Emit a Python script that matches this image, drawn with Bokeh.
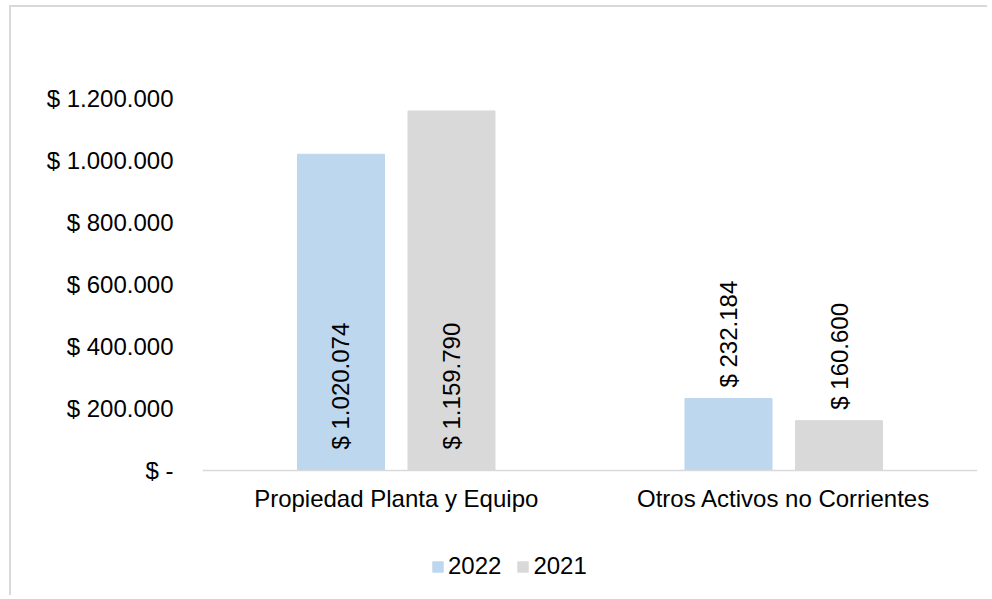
import math
from bokeh.plotting import figure
from bokeh.models import ColumnDataSource, FactorRange, Range1d, FixedTicker, Legend, LegendItem
from bokeh.transform import dodge
from bokeh.core.properties import value
from bokeh.embed import file_html
from bokeh.resources import INLINE

# ---- data ----
categories = ["Propiedad Planta y Equipo", "Otros Activos no Corrientes"]
values_2022 = [1020074, 232184]
values_2021 = [1159790, 160600]
series_names = ["2022", "2021"]
tick_values = [0, 200000, 400000, 600000, 800000, 1000000, 1200000]
tick_labels = ["$ -", "$ 200.000", "$ 400.000", "$ 600.000", "$ 800.000", "$ 1.000.000", "$ 1.200.000"]

COL_2022 = "#BDD7EE"
COL_2021 = "#D9D9D9"
FONT = "Liberation Sans"
FS = "24px"


def money(v):
    return "$ " + f"{v:,}".replace(",", ".")


# layout geometry (pixels inside the canvas)
W, H = 978, 590
TOP, LEFT, RIGHT, BOTTOM = 29, 191, 12, 7
Y_MAX = 1400000
zero_from_top = 463          # pixel row of the value 0 measured from canvas top
frame_h = H - TOP - BOTTOM
per_px = Y_MAX / (zero_from_top - TOP)
y_start = -(frame_h - (zero_from_top - TOP)) * per_px

src = ColumnDataSource(dict(cat=categories, v2022=values_2022, v2021=values_2021))

p = figure(
    x_range=FactorRange(factors=categories, range_padding=0),
    y_range=Range1d(y_start, Y_MAX),
    width=W, height=H,
    output_backend="svg", toolbar_location=None,
    min_border_left=LEFT, min_border_right=RIGHT, min_border_top=TOP, min_border_bottom=BOTTOM,
)
p.styles = {"border-left": "2px solid #d9d9d9", "border-top": "2px solid #d9d9d9",
            "margin-left": "9px", "margin-top": "5px"}
p.outline_line_color = None
p.xgrid.visible = False
p.ygrid.visible = False
p.background_fill_color = "white"
p.border_fill_color = "white"

off = 0.1426
bw = 0.2245
r22 = p.vbar(x=dodge("cat", -off, range=p.x_range), top="v2022", bottom=0, width=bw, source=src,
             fill_color=COL_2022, line_color=COL_2022)
r21 = p.vbar(x=dodge("cat", off, range=p.x_range), top="v2021", bottom=0, width=bw, source=src,
             fill_color=COL_2021, line_color=COL_2021)

# data labels: inside base for tall bars, outside end for short ones
for vals, dx in ((values_2022, -off), (values_2021, off)):
    ys = [0 if v > 500000 else v for v in vals]
    yoffs = [-21 if v > 500000 else -11 for v in vals]
    lsrc = ColumnDataSource(dict(cat=categories, y=ys, t=[money(v) for v in vals], yo=yoffs))
    p.text(x=dodge("cat", dx, range=p.x_range), y="y", text="t", y_offset="yo", source=lsrc,
           angle=math.pi / 2, text_align="left", text_baseline="middle",
           text_font=value(FONT), text_font_size=FS, text_color="#000000")

# axes
p.yaxis.ticker = FixedTicker(ticks=tick_values)
p.yaxis.major_label_overrides = {t: l for t, l in zip(tick_values, tick_labels)}
p.yaxis.axis_line_color = None
p.yaxis.major_tick_line_color = None
p.yaxis.minor_tick_line_color = None
p.yaxis.major_tick_out = 0
p.yaxis.major_tick_in = 0
p.yaxis.major_label_standoff = 29
p.yaxis.major_label_text_font = FONT
p.yaxis.major_label_text_font_size = FS
p.yaxis.major_label_text_color = "#000000"

p.xaxis.fixed_location = 0
p.xaxis.axis_line_color = "#D9D9D9"
p.xaxis.axis_line_width = 1.5
p.xaxis.major_tick_line_color = None
p.xaxis.minor_tick_line_color = None
p.xaxis.major_tick_out = 0
p.xaxis.major_tick_in = 0
p.xaxis.major_label_standoff = 14
p.xaxis.major_label_text_font = FONT
p.xaxis.major_label_text_font_size = FS
p.xaxis.major_label_text_color = "#000000"

legend = Legend(
    items=[LegendItem(label=series_names[0], renderers=[r22]),
           LegendItem(label=series_names[1], renderers=[r21])],
    orientation="horizontal", location=(229, 10),
    padding=0, margin=0, spacing=15, label_standoff=4,
    glyph_width=13, glyph_height=13, label_height=13,
    border_line_color=None, background_fill_alpha=0,
    label_text_font=FONT, label_text_font_size=FS, label_text_color="#000000",
)
p.add_layout(legend, "center")

open("out.html", "w").write(file_html(p, INLINE))
